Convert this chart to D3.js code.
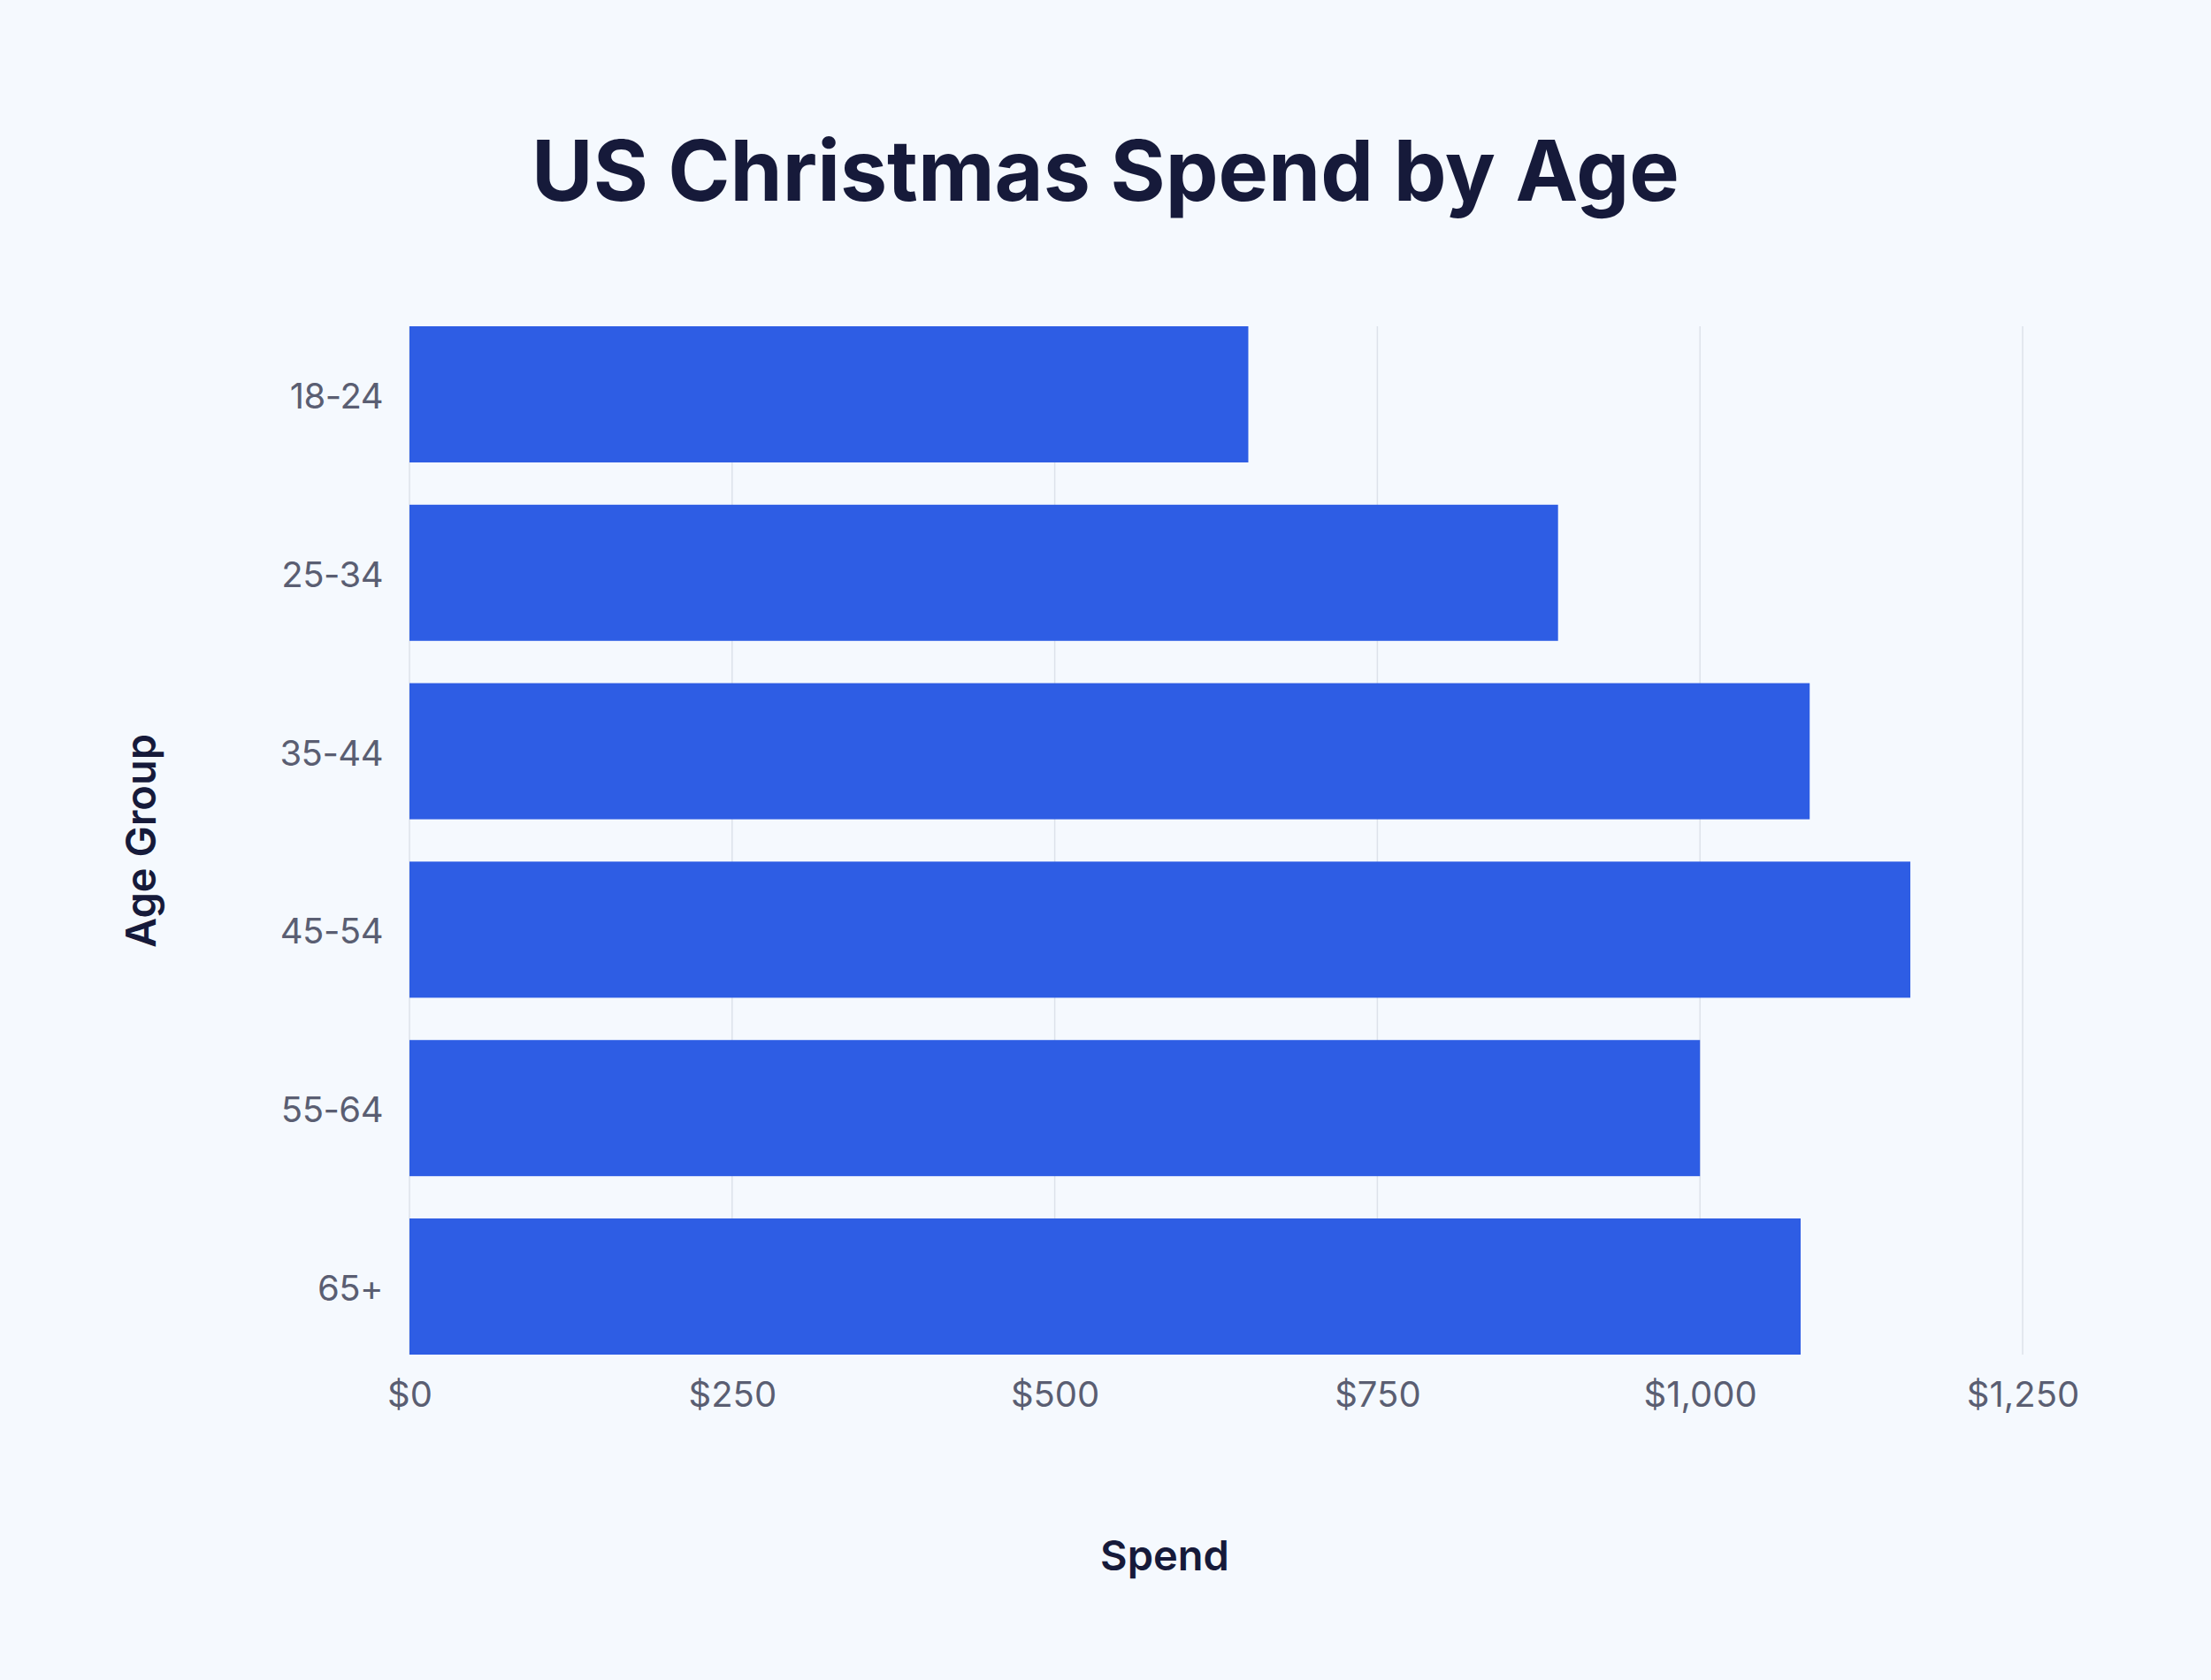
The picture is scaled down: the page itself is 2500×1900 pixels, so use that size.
<!DOCTYPE html>
<html>
<head>
<meta charset="utf-8">
<script src="https://cdn.jsdelivr.net/npm/d3@7"></script>
<style>
  body { margin: 0; background: #f5f9fe; }
  #content text { font-family: Inter, "Noto Sans", sans-serif; }
</style>
</head>
<body>
<div id="content"></div>
<script>
// data
const ageGroups = ["18-24", "25-34", "35-44", "45-54", "55-64", "65+"]
const spend = [650, 890, 1085, 1163, 1000, 1078]
const xTicks = [0, 250, 500, 750, 1000, 1250]

const data = ageGroups.map((g, i) => ({group: g, value: spend[i]}))

const outerWidth = 2500
const outerHeight = 1900
const margin = {top: 369, right: 213, bottom: 368, left: 463}
const width = outerWidth - margin.left - margin.right
const height = outerHeight - margin.top - margin.bottom

const svg = d3.select("#content").append("svg")
    .attr("width", outerWidth)
    .attr("height", outerHeight)

svg.append("rect")
    .attr("width", outerWidth)
    .attr("height", outerHeight)
    .attr("fill", "#f5f9fe")

const wrapper = svg.append("g")
    .attr("transform", `translate(${margin.left}, ${margin.top})`)

// scales
const xScale = d3.scaleLinear()
    .domain([0, 1250])
    .range([0, width])

const yScale = d3.scaleBand()
    .domain(ageGroups)
    .range([0, height])
    .paddingInner(0.237)
    .paddingOuter(0)

// gridlines
wrapper.append("g")
    .selectAll("line")
    .data(xTicks)
    .join("line")
    .attr("x1", d => xScale(d))
    .attr("x2", d => xScale(d))
    .attr("y1", 0)
    .attr("y2", height)
    .attr("stroke", "#dde2ea")
    .attr("stroke-width", 1.5)

// bars
wrapper.append("g")
    .selectAll("rect")
    .data(data)
    .join("rect")
    .attr("x", 0)
    .attr("y", d => yScale(d.group))
    .attr("width", d => xScale(d.value))
    .attr("height", yScale.bandwidth())
    .attr("fill", "#2e5de4")

// axes
const xAxis = d3.axisBottom(xScale)
    .tickValues(xTicks)
    .tickFormat(d => "$" + d3.format(",")(d))
    .tickSize(0)
    .tickPadding(31)

const gx = wrapper.append("g")
    .attr("transform", `translate(0, ${height})`)
    .call(xAxis)
gx.select(".domain").remove()
gx.selectAll("text")
    .attr("font-size", 40)
    .attr("fill", "#5a5e72")

const yAxis = d3.axisLeft(yScale)
    .tickSize(0)
    .tickPadding(30)

const gy = wrapper.append("g")
    .call(yAxis)
gy.select(".domain").remove()
gy.selectAll("text")
    .attr("font-size", 40)
    .attr("letter-spacing", -0.5)
    .attr("dy", "0.4em")
    .attr("fill", "#5a5e72")

// titles
svg.append("text")
    .attr("x", 1250)
    .attr("y", 227)
    .attr("text-anchor", "middle")
    .attr("font-size", 95)
    .attr("font-weight", 700)
    .attr("fill", "#161a3a")
    .text("US Christmas Spend by Age")

svg.append("text")
    .attr("x", 1317)
    .attr("y", 1776)
    .attr("text-anchor", "middle")
    .attr("font-size", 47)
    .attr("font-weight", 600)
    .attr("fill", "#161a3a")
    .text("Spend")

svg.append("text")
    .attr("transform", "translate(176, 951) rotate(-90)")
    .attr("text-anchor", "middle")
    .attr("font-size", 47)
    .attr("font-weight", 600)
    .attr("fill", "#161a3a")
    .text("Age Group")
</script>
</body>
</html>
